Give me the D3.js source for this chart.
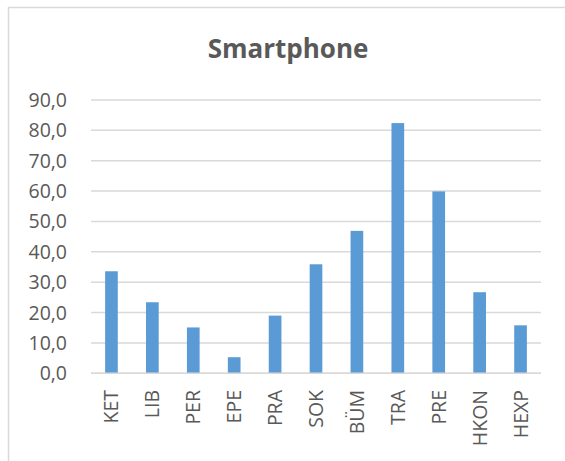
<!DOCTYPE html>
<html>
<head>
<meta charset="utf-8">
<script src="https://cdn.jsdelivr.net/npm/d3@7"></script>
<style>
  html, body { margin: 0; padding: 0; background: #ffffff; }
  svg { display: block; }
</style>
</head>
<body>
<svg id="chart" width="565" height="461"></svg>
<script>
const title = "Smartphone";
const categories = ["KET", "LIB", "PER", "EPE", "PRA", "SOK", "BÜM", "TRA", "PRE", "HKON", "HEXP"];
const values = [33.6, 23.4, 15.1, 5.3, 19.0, 35.9, 46.9, 82.4, 59.9, 26.7, 15.8];
const yTicks = [0, 10, 20, 30, 40, 50, 60, 70, 80, 90];

const svg = d3.select("#chart");
const W = 565, H = 461;
const plot = { left: 91, right: 541, top: 100, bottom: 373.3 };
const textColor = "#595959";
const gridColor = "#d9d9d9";
const barColor = "#5b9bd5";
const font = "'Open Sans', 'Noto Sans', sans-serif";

// chart area border
svg.append("rect")
  .attr("x", 8.5).attr("y", 7.5)
  .attr("width", 600).attr("height", 500)
  .attr("fill", "#ffffff")
  .attr("stroke", gridColor).attr("stroke-width", 1.5);

const x = d3.scaleBand().domain(categories).range([plot.left, plot.right]).padding(0);
const y = d3.scaleLinear().domain([0, 90]).range([plot.bottom, plot.top]);

// gridlines
svg.append("g").selectAll("line").data(yTicks).join("line")
  .attr("x1", plot.left).attr("x2", plot.right)
  .attr("y1", d => y(d)).attr("y2", d => y(d))
  .attr("stroke", gridColor).attr("stroke-width", 1.5);

// y labels
const fmt = v => d3.format(".1f")(v).replace(".", ",");
svg.append("g").selectAll("text").data(yTicks).join("text")
  .attr("x", 67).attr("y", d => y(d))
  .attr("dy", "0.36em")
  .attr("text-anchor", "end")
  .attr("font-family", font).attr("font-size", 19.5)
  .attr("fill", textColor)
  .text(fmt);

// bars
const barW = x.step() * 0.31;
svg.append("g").selectAll("rect").data(categories).join("rect")
  .attr("x", (d) => x(d) + x.bandwidth() / 2 - barW / 2)
  .attr("width", barW)
  .attr("y", (d, i) => y(values[i]))
  .attr("height", (d, i) => y(0) - y(values[i]))
  .attr("fill", barColor);

// baseline
svg.append("line")
  .attr("x1", plot.left).attr("x2", plot.right)
  .attr("y1", y(0)).attr("y2", y(0))
  .attr("stroke", gridColor).attr("stroke-width", 1.5);

// category labels
svg.append("g").selectAll("text").data(categories).join("text")
  .attr("transform", d => `translate(${x(d) + x.bandwidth() / 2},390) rotate(-90)`)
  .attr("dy", "0.36em")
  .attr("text-anchor", "end")
  .attr("font-family", font).attr("font-size", 19.5)
  .attr("fill", textColor)
  .text(d => d);

// title
svg.append("text")
  .attr("x", 288).attr("y", 58)
  .attr("text-anchor", "middle")
  .attr("font-family", font).attr("font-size", 26).attr("font-weight", "bold")
  .attr("fill", textColor)
  .text(title);
</script>
</body>
</html>
